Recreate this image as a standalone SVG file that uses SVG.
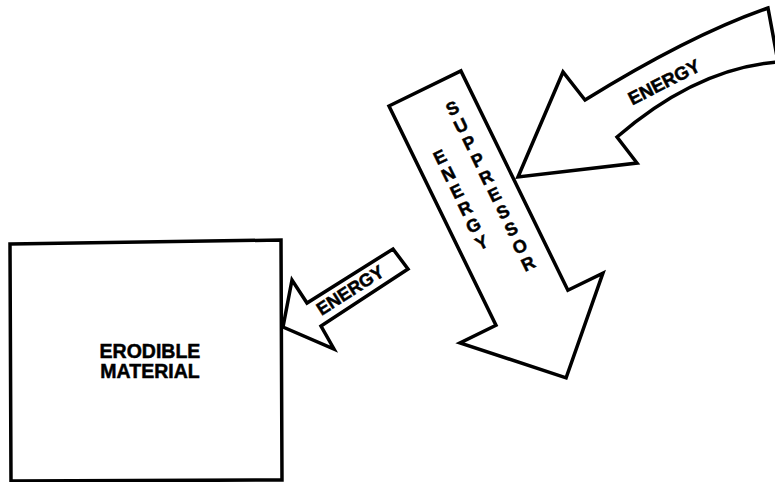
<svg xmlns="http://www.w3.org/2000/svg" width="775" height="482" viewBox="0 0 775 482">
<style>
.o{fill:#fff;stroke:#000;stroke-width:3.5;stroke-linejoin:miter}
.t{font-family:"Liberation Sans",Arial,sans-serif;font-weight:bold;fill:#000;stroke:#000;stroke-width:0.5;text-anchor:middle}
.l{font-size:18px}
</style>
<rect width="775" height="482" fill="#fff"/>
<g id="erodible-material">
<polygon class="o" points="10,244 281,240 282,480 11,481"/>
<text class="t" x="150" y="358" font-size="19.5">ERODIBLE</text>
<text class="t" x="150" y="378" font-size="19.5">MATERIAL</text>
</g>
<g id="energy-suppressor" transform="translate(389,106) rotate(-26)">
<path class="o" d="M0,0 L80,0 L80,244 L119,244 L40,322 L-40,244 L0,244 Z"/>
<g class="t l">
<text x="56" y="36">S</text>
<text x="56" y="55.2">U</text>
<text x="56" y="74.4">P</text>
<text x="56" y="93.6">P</text>
<text x="56" y="112.8">R</text>
<text x="56" y="132">E</text>
<text x="56" y="151.2">S</text>
<text x="56" y="170.4">S</text>
<text x="56" y="189.6">O</text>
<text x="56" y="208.8">R</text>
<text x="23.5" y="74.5">E</text>
<text x="23.5" y="93.5">N</text>
<text x="23.5" y="112.5">E</text>
<text x="23.5" y="131.5">R</text>
<text x="23.5" y="150.5">G</text>
<text x="23.5" y="169.5">Y</text>
</g>
</g>
<g id="connectors">
<g id="energy-in">
<path class="o" d="M768,8 L778,62 Q697,68 617,137 L637,163 L518,177 L563,72 L585,100 Q690,35 768,8 Z"/>
<text class="t" font-size="18.5" transform="translate(664,82) rotate(-27)" x="0" y="6.5">ENERGY</text>
</g>
<g id="energy-to-material">
<path class="o" d="M283,327 L292,280 L307,303 L393,249 L408,269 L321,326 L334,349 Z"/>
<text class="t" font-size="18" transform="translate(350,290) rotate(-32.7)" x="0" y="6.5">ENERGY</text>
</g>
</g>
</svg>
